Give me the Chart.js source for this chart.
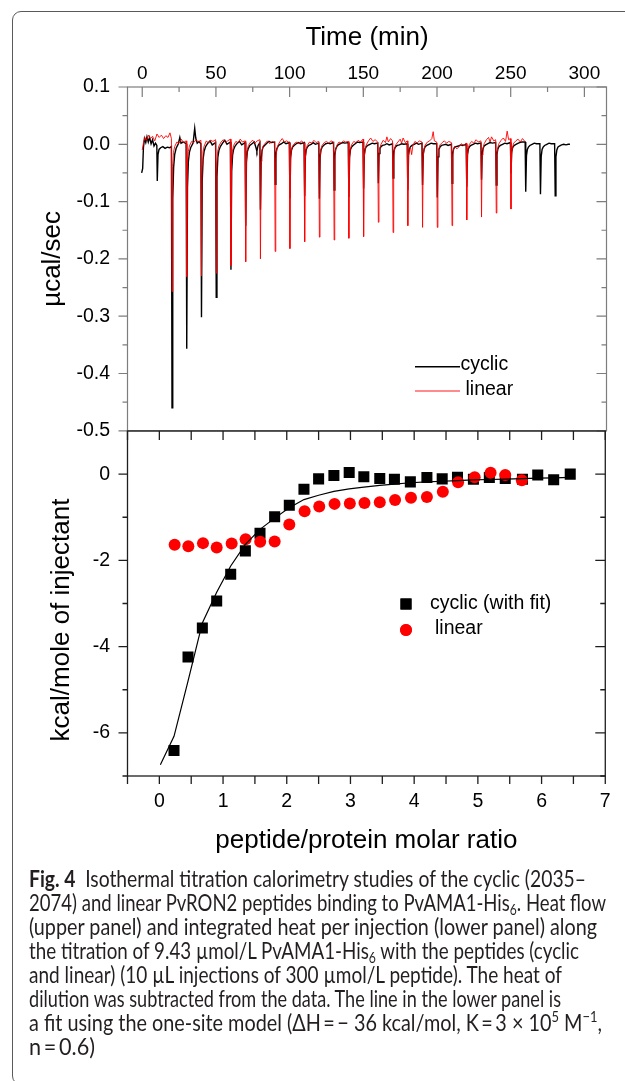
<!DOCTYPE html>
<html><head><meta charset="utf-8">
<script src="https://cdn.jsdelivr.net/npm/chart.js@4.4.1/dist/chart.umd.min.js"></script>
<style>
html,body{margin:0;padding:0;background:#fff;}
body{width:625px;height:1081px;position:relative;overflow:hidden;}
#frame{position:absolute;left:12px;top:11px;width:700px;height:1074px;border:1.5px solid #5a5a5a;border-radius:9px;box-sizing:border-box;}
#cA{position:absolute;left:0;top:0;}
#cB{position:absolute;left:0;top:400px;}
#caption{position:absolute;left:29px;top:866px;font-family:Lato,'Open Sans',sans-serif;font-size:23px;line-height:24px;color:#231f20;white-space:nowrap;}
#caption div{height:24px;}
#caption span.ln{display:inline-block;transform-origin:0 0;transform:scaleX(0.837);}
#caption b{font-weight:700;}
#caption sub{font-size:15px;vertical-align:-4px;line-height:0;}
#caption sup{font-size:15px;vertical-align:9px;line-height:0;}
</style></head><body>
<div id="frame"></div>
<canvas id="cA" width="625" height="460"></canvas>
<canvas id="cB" width="625" height="470"></canvas>
<div id="caption">
<div><span class="ln"><b>Fig. 4</b>&ensp;Isothermal titration calorimetry studies of the cyclic (2035–</span></div>
<div><span class="ln">2074) and linear PvRON2 peptides binding to PvAMA1-His<sub>6</sub>. Heat flow</span></div>
<div><span class="ln">(upper panel) and integrated heat per injection (lower panel) along</span></div>
<div><span class="ln">the titration of 9.43 µmol/L PvAMA1-His<sub>6</sub> with the peptides (cyclic</span></div>
<div><span class="ln">and linear) (10 µL injections of 300 µmol/L peptide). The heat of</span></div>
<div><span class="ln">dilution was subtracted from the data. The line in the lower panel is</span></div>
<div><span class="ln">a fit using the one-site model (ΔH&thinsp;=&thinsp;− 36 kcal/mol, K&thinsp;=&thinsp;3 × 10<sup>5</sup> M<sup>−1</sup>,</span></div>
<div><span class="ln">n&thinsp;=&thinsp;0.6)</span></div>
</div>
<script>
// ---------- tick values ----------
const timeMajorTicks = [0, 50, 100, 150, 200, 250, 300];
const timeMinorTicks = [25, 75, 125, 175, 225, 275];
const heatMajorTicks = [0.1, 0, -0.1, -0.2, -0.3, -0.4, -0.5];
const heatMinorTicks = [0.05, -0.05, -0.15, -0.25, -0.35, -0.45];
const ratioTicks = [0, 1, 2, 3, 4, 5, 6, 7];
const ratioMarks = [-0.5, 0, 0.5, 1, 1.5, 2, 2.5, 3, 3.5, 4, 4.5, 5, 5.5, 6, 6.5, 7];
const kcalMajorTicks = [0, -2, -4, -6];
const kcalMinorTicks = [-1, -3, -5, -7];

// ---------- upper panel: raw heat flow [time (min), µcal/sec] ----------
const cyclicTrace = [
 [-0.4,-0.050],[0.3,-0.042],[0.8,-0.006],[1.5,0.010],[2.4,0.003],[3.2,0.013],[4.1,0.004],[5.0,0.012],[6.0,0.001],[7.0,0.008],[8.0,-0.003],[9.0,0.002],[9.9,-0.002],
 [10.2,-0.064],[10.7,-0.018],[11.4,-0.009],[12.5,-0.006],[14.0,-0.004],[15.5,-0.007],[17.0,-0.005],[18.5,-0.006],[19.8,-0.004],
 [20.2,-0.460],[20.7,-0.095],[21.3,-0.040],[22.0,-0.018],[23.0,-0.007],[24.5,0.001],[25.5,0.012],[26.3,0.002],[27.8,0.004],[29.8,0.001],
 [30.2,-0.357],[30.7,-0.075],[31.3,-0.030],[32.0,-0.014],[33.0,-0.005],[34.5,0.002],[35.6,0.028],[36.3,0.011],[37.3,0.002],[38.5,0.005],[39.8,0.001],
 [40.2,-0.302],[40.7,-0.064],[41.3,-0.026],[42.0,-0.012],[43.0,-0.004],[44.5,0.002],[46.0,0.006],[47.5,-0.001],[49.8,0.003],
 [50.2,-0.267],[50.7,-0.057],[51.3,-0.023],[52.0,-0.011],[53.0,-0.004],[54.5,0.002],[56.0,0.007],[57.5,0.000],[59.8,0.004],
 [60.2,-0.219],[60.7,-0.047],[61.3,-0.019],[62.0,-0.009],[63.0,-0.003],[64.5,0.002],[66.0,0.005],[67.5,-0.001],[69.8,0.003],
 [70.2,-0.142],[70.7,-0.032],[71.3,-0.013],[72.0,-0.007],[73.0,-0.002],[74.5,0.001],[76.0,0.004],[77.2,-0.006],[77.8,-0.012],[78.6,-0.002],[79.8,0.003],
 [80.2,-0.114],[80.7,-0.026],[81.3,-0.011],[82.0,-0.005],[83.0,-0.002],[84.5,0.002],[86.0,0.005],[87.5,0.003],[89.8,0.004],
 [90.2,-0.070],[90.7,-0.018],[91.3,-0.008],[92.0,-0.004],[93.0,-0.001],[94.5,0.001],[96.0,0.004],[97.5,0.001],[99.8,0.003],
 [100.2,-0.094],[100.7,-0.022],[101.3,-0.010],[102.0,-0.005],[103.0,-0.002],[104.5,0.001],[106.0,0.003],[107.5,0.001],[109.8,0.003],
 [110.2,-0.090],[110.7,-0.021],[111.3,-0.009],[112.0,-0.005],[113.0,-0.002],[114.5,0.000],[116.0,0.003],[117.5,0.000],[119.8,0.002],
 [120.2,-0.095],[120.7,-0.022],[121.3,-0.010],[122.0,-0.005],[123.0,-0.002],[124.5,0.001],[126.0,0.002],[127.5,0.001],[129.8,0.003],
 [130.2,-0.080],[130.7,-0.019],[131.3,-0.008],[132.0,-0.004],[133.0,-0.001],[134.5,0.001],[136.0,0.003],[137.5,0.002],[139.8,0.003],
 [140.2,-0.092],[140.7,-0.022],[141.3,-0.009],[142.0,-0.005],[143.0,-0.002],[144.5,0.001],[146.0,0.004],[147.5,0.003],[149.8,0.004],
 [150.2,-0.077],[150.7,-0.018],[151.3,-0.008],[152.0,-0.004],[153.0,-0.002],[154.5,0.000],[156.0,0.002],[157.5,0.001],[159.8,0.002],
 [160.2,-0.068],[160.7,-0.016],[161.3,-0.007],[162.0,-0.004],[163.0,-0.002],[164.5,-0.001],[166.0,0.001],[167.5,-0.001],[169.8,0.001],
 [170.2,-0.059],[170.7,-0.015],[171.3,-0.007],[172.0,-0.004],[173.0,-0.002],[174.5,-0.001],[176.0,0.001],[177.5,0.000],[179.8,0.001],
 [180.2,-0.080],[180.7,-0.019],[181.3,-0.008],[182.0,-0.004],[183.0,-0.002],[184.5,0.000],[186.0,0.002],[187.5,0.000],[189.8,0.002],
 [190.2,-0.071],[190.7,-0.017],[191.3,-0.008],[192.0,-0.004],[193.0,-0.002],[194.5,0.000],[196.0,0.002],[197.5,0.001],[199.8,0.001],
 [200.2,-0.093],[200.7,-0.022],[201.3,-0.009],[202.0,-0.005],[203.0,-0.002],[204.5,-0.001],[206.0,0.000],[207.5,-0.002],[209.8,0.000],
 [210.2,-0.068],[210.7,-0.016],[211.3,-0.008],[212.0,-0.005],[213.0,-0.004],[214.5,-0.003],[216.0,-0.001],[217.5,-0.002],[219.8,0.000],
 [220.2,-0.074],[220.7,-0.018],[221.3,-0.008],[222.0,-0.004],[223.0,-0.002],[224.5,0.000],[226.0,0.002],[227.5,0.001],[229.8,0.002],
 [230.2,-0.062],[230.7,-0.015],[231.3,-0.007],[232.0,-0.003],[233.0,-0.001],[234.5,0.001],[236.0,0.003],[237.5,0.002],[239.8,0.003],
 [240.2,-0.071],[240.7,-0.017],[241.3,-0.008],[242.0,-0.004],[243.0,-0.002],[244.5,0.000],[246.0,0.002],[247.5,0.001],[249.8,0.003],
 [250.2,-0.051],[250.7,-0.013],[251.3,-0.006],[252.0,-0.003],[253.0,-0.001],[254.5,0.001],[256.0,0.003],[257.5,0.004],[259.8,0.004],
 [260.2,-0.083],[260.7,-0.020],[261.3,-0.009],[262.0,-0.005],[263.0,-0.002],[264.5,0.000],[266.0,0.002],[267.5,0.001],[269.8,0.001],
 [270.2,-0.087],[270.7,-0.021],[271.3,-0.009],[272.0,-0.005],[273.0,-0.002],[274.5,0.000],[276.0,0.002],[277.5,0.001],[279.8,0.001],
 [280.2,-0.090],[280.7,-0.022],[281.3,-0.010],[282.0,-0.005],[283.0,-0.003],[284.5,-0.001],[286.0,0.000],[287.5,-0.001],[289.0,0.000],[290.2,0.000]
];
const linearTrace = [
 [0.0,-0.010],[0.8,0.002],[1.8,0.012],[3.0,0.007],[4.2,0.016],[5.5,0.010],[7.0,0.014],[8.5,0.006],[10.0,0.018],[11.5,0.012],[13.0,0.016],[14.5,0.010],[16.0,0.015],[17.5,0.012],[18.8,0.020],[19.8,0.010],
 [20.2,-0.257],[20.6,-0.039],[21.2,-0.014],[22.0,-0.004],[23.5,0.004],[25.0,0.002],[26.5,0.009],[28.0,0.003],[29.8,0.006],
 [30.2,-0.231],[30.6,-0.035],[31.2,-0.013],[32.0,-0.003],[33.5,0.005],[35.0,0.003],[36.5,0.008],[38.0,0.004],[39.8,0.007],
 [40.2,-0.230],[40.6,-0.035],[41.2,-0.013],[42.0,-0.003],[43.5,0.006],[45.0,0.002],[46.5,0.007],[48.0,0.005],[49.8,0.008],
 [50.2,-0.225],[50.6,-0.034],[51.2,-0.012],[52.0,-0.003],[53.5,0.004],[55.0,0.008],[56.5,0.003],[58.0,0.006],[59.8,0.009],
 [60.2,-0.212],[60.6,-0.032],[61.2,-0.012],[62.0,-0.002],[63.5,0.005],[65.0,0.003],[66.5,0.009],[68.0,0.004],[69.8,0.006],
 [70.2,-0.205],[70.6,-0.031],[71.2,-0.011],[72.0,-0.002],[73.5,0.004],[75.0,0.007],[76.5,0.002],[78.0,0.006],[79.8,0.008],
 [80.2,-0.200],[80.6,-0.030],[81.2,-0.011],[82.0,-0.003],[83.5,0.002],[85.0,0.006],[86.5,0.001],[88.0,0.005],[89.8,0.003],
 [90.2,-0.187],[90.6,-0.028],[91.2,-0.010],[92.0,-0.002],[93.5,0.005],[95.0,0.010],[96.5,0.004],[98.0,0.006],[99.8,0.003],
 [100.2,-0.182],[100.6,-0.027],[101.2,-0.010],[102.0,-0.003],[103.5,0.002],[105.0,0.004],[106.5,0.001],[108.0,0.006],[109.8,0.002],
 [110.2,-0.170],[110.6,-0.026],[111.2,-0.009],[112.0,-0.002],[113.5,0.004],[115.0,0.002],[116.5,0.007],[118.0,0.003],[119.8,0.005],
 [120.2,-0.162],[120.6,-0.024],[121.2,-0.009],[122.0,-0.002],[123.5,0.003],[125.0,0.005],[126.5,0.002],[128.0,0.006],[129.8,0.004],
 [130.2,-0.167],[130.6,-0.025],[131.2,-0.009],[132.0,-0.002],[133.5,0.004],[135.0,0.002],[136.5,0.006],[138.0,0.004],[139.8,0.005],
 [140.2,-0.164],[140.6,-0.025],[141.2,-0.009],[142.0,-0.001],[143.5,0.005],[145.0,0.003],[146.5,0.007],[148.0,0.004],[149.8,0.009],
 [150.2,-0.161],[150.6,-0.024],[151.2,-0.009],[152.0,-0.001],[153.5,0.006],[155.0,0.011],[156.5,0.005],[158.0,0.008],[159.8,0.004],
 [160.2,-0.136],[160.6,-0.020],[161.2,-0.007],[162.0,0.000],[163.5,0.007],[165.0,0.003],[166.0,0.013],[167.0,0.004],[168.5,0.010],[169.8,0.006],
 [170.2,-0.154],[170.6,-0.023],[171.2,-0.008],[172.0,-0.001],[173.5,0.004],[175.0,0.009],[176.0,0.002],[177.0,0.011],[178.5,0.003],[179.8,0.006],
 [180.2,-0.142],[180.6,-0.021],[181.2,-0.008],[182.0,-0.006],[182.8,-0.018],[183.6,-0.002],[185.0,0.005],[186.5,0.002],[188.0,0.006],[189.8,0.004],
 [190.2,-0.145],[190.6,-0.022],[191.2,-0.008],[192.0,-0.001],[193.5,0.004],[195.0,0.006],[196.5,0.010],[197.4,0.022],[198.2,0.006],[199.8,0.004],
 [200.2,-0.145],[200.6,-0.022],[201.2,-0.008],[202.0,-0.001],[203.5,0.003],[205.0,0.006],[206.5,0.002],[208.0,0.005],[209.8,0.003],
 [210.2,-0.142],[210.6,-0.021],[211.2,-0.008],[212.0,-0.004],[213.5,-0.008],[215.0,-0.004],[216.5,0.001],[218.0,-0.002],[219.8,0.002],
 [220.2,-0.132],[220.6,-0.020],[221.2,-0.007],[222.0,0.000],[223.5,0.005],[225.0,0.002],[226.5,0.008],[228.0,0.004],[229.8,0.006],
 [230.2,-0.127],[230.6,-0.019],[231.2,-0.007],[232.0,0.001],[233.5,0.008],[235.0,0.012],[236.0,0.004],[237.0,0.013],[238.5,0.006],[239.8,0.008],
 [240.2,-0.120],[240.6,-0.018],[241.2,-0.006],[242.0,0.001],[243.5,0.007],[245.0,0.011],[246.5,0.005],[247.6,0.023],[248.6,0.008],[249.8,0.010],
 [250.2,-0.113],[250.6,-0.017],[251.2,-0.006],[252.0,0.002],[253.5,0.006],[255.0,0.009],[256.5,0.004],[258.0,0.010],[259.6,0.005]
];

// ---------- lower panel: integrated heats (kcal/mole of injectant) ----------
const cyclicRatio = [0.23,0.45,0.675,0.90,1.12,1.35,1.58,1.81,2.04,2.27,2.50,2.74,2.98,3.21,3.46,3.69,3.94,4.20,4.44,4.68,4.93,5.18,5.43,5.70,5.94,6.19,6.45];
const cyclicHeat  = [-6.41,-4.24,-3.57,-2.94,-2.32,-1.78,-1.37,-0.99,-0.72,-0.35,-0.11,-0.03,0.04,-0.06,-0.10,-0.12,-0.18,-0.08,-0.11,-0.07,-0.12,-0.08,-0.10,-0.12,-0.02,-0.13,0.00];
const linearRatio = [0.24,0.455,0.685,0.90,1.135,1.354,1.583,1.81,2.04,2.28,2.51,2.75,2.99,3.22,3.46,3.70,3.95,4.20,4.45,4.69,4.95,5.20,5.43,5.69];
const linearHeat  = [-1.64,-1.67,-1.60,-1.70,-1.61,-1.51,-1.57,-1.56,-1.17,-0.86,-0.75,-0.69,-0.68,-0.67,-0.65,-0.60,-0.55,-0.53,-0.41,-0.19,-0.07,0.03,-0.02,-0.14];
const fitRatio = [0.016,0.23,0.45,0.675,0.90,1.12,1.35,1.58,1.81,2.04,2.27,2.50,2.74,2.98,3.21,3.46,3.69,3.94,4.20,4.44,4.68,4.92,5.18,5.43,5.70,5.94,6.20,6.45];
const fitHeat  = [-6.74,-6.08,-4.80,-3.45,-2.74,-2.13,-1.63,-1.28,-1.02,-0.78,-0.59,-0.49,-0.40,-0.34,-0.30,-0.26,-0.23,-0.20,-0.18,-0.165,-0.15,-0.135,-0.125,-0.115,-0.105,-0.095,-0.085,-0.075];

// caption line right ends (page px)
const captionLineEnds = [586, 606, 597, 579, 562, 561, 602, 95];
document.querySelectorAll('#caption span.ln').forEach((el, i) => {
  el.style.transform = 'none';
  const w = el.getBoundingClientRect().width;
  const target = captionLineEnds[i] - 29;
  el.style.transform = 'scaleX(' + (target / w).toFixed(4) + ')';
});

const FONT = "'Liberation Sans', Arial, sans-serif";
Chart.defaults.font.family = FONT;
Chart.defaults.color = '#000';

// frame + tick marks drawn through the chart's own scales
const frameTicks = {
  id: 'frameTicks',
  afterDraw(chart, args, opts) {
    const ctx = chart.ctx, a = chart.chartArea;
    ctx.save();
    ctx.strokeStyle = opts.color; ctx.lineWidth = opts.width;
    ctx.strokeRect(a.left, a.top, a.right - a.left, a.bottom - a.top);
    ctx.beginPath();
    for (const m of opts.marks) {
      const s = chart.scales[m.scale];
      for (const v of m.values) {
        const p = s.getPixelForValue(v);
        if (m.edge === 'top') { ctx.moveTo(p, a.top); ctx.lineTo(p, a.top + m.len); }
        else if (m.edge === 'bottom') { ctx.moveTo(p, a.bottom); ctx.lineTo(p, a.bottom - m.len); }
        else if (m.edge === 'left') { ctx.moveTo(a.left, p); ctx.lineTo(a.left + m.len, p); }
        else { ctx.moveTo(a.right, p); ctx.lineTo(a.right - m.len, p); }
      }
    }
    ctx.stroke();
    ctx.restore();
  }
};

// inset legend
const insetLegend = {
  id: 'insetLegend',
  afterDraw(chart, args, opts) {
    const ctx = chart.ctx, a = chart.chartArea;
    ctx.save();
    ctx.font = opts.font;
    ctx.textBaseline = 'middle'; ctx.textAlign = 'left'; ctx.fillStyle = '#000';
    for (const it of opts.items) {
      const ds = chart.data.datasets[it.ds];
      const x = a.left + it.dx, y = a.top + it.dy;
      if (it.kind === 'line') {
        ctx.strokeStyle = ds.borderColor; ctx.lineWidth = ds.borderWidth;
        ctx.beginPath(); ctx.moveTo(x, y); ctx.lineTo(x + it.len, y); ctx.stroke();
      } else {
        ctx.fillStyle = ds.pointBackgroundColor;
        Chart.helpers.drawPoint(ctx, {pointStyle: ds.pointStyle, radius: ds.pointRadius, borderWidth: 0}, x, y);
        ctx.fill();
      }
      ctx.fillStyle = '#000';
      ctx.fillText(it.text, a.left + it.tx, a.top + it.ty);
    }
    ctx.restore();
  }
};

// extra rotated axis title (lower panel)
const sideTitle = {
  id: 'sideTitle',
  afterDraw(chart, args, opts) {
    if (!opts.text) return;
    const ctx = chart.ctx, a = chart.chartArea;
    ctx.save();
    ctx.translate(a.left + opts.dx, a.top + opts.dy);
    ctx.rotate(-Math.PI / 2);
    ctx.font = opts.font; ctx.fillStyle = '#000';
    ctx.textAlign = 'center'; ctx.textBaseline = 'middle';
    ctx.fillText(opts.text, 0, 0);
    ctx.restore();
  }
};

const pairs = arr => arr.map(p => ({x: p[0], y: p[1]}));
const zip = (xs, ys) => xs.map((x, i) => ({x, y: ys[i]}));

// ---------- upper chart ----------
new Chart(document.getElementById('cA'), {
  type: 'line',
  data: { datasets: [
    { label: 'cyclic', data: pairs(cyclicTrace), borderColor: '#000', borderWidth: 1.4, pointRadius: 0, tension: 0, order: 1 },
    { label: 'linear', data: pairs(linearTrace), borderColor: 'rgba(255,0,0,0.9)', borderWidth: 1, pointRadius: 0, tension: 0, order: 0 }
  ]},
  options: {
    responsive: false, animation: false, devicePixelRatio: 1, events: [],
    layout: { padding: { left: 0, right: 18.5, top: 0, bottom: 29 } },
    plugins: {
      legend: { display: false }, tooltip: { enabled: false },
      frameTicks: { color: '#7d7d7d', width: 1.2, marks: [
        { scale: 'x', edge: 'top', values: timeMajorTicks, len: 10 },
        { scale: 'x', edge: 'top', values: timeMinorTicks, len: 5 },
        { scale: 'y', edge: 'left', values: heatMajorTicks, len: -9 },
        { scale: 'y', edge: 'left', values: heatMinorTicks, len: -5 },
        { scale: 'y', edge: 'right', values: heatMajorTicks, len: 10 },
        { scale: 'y', edge: 'right', values: heatMinorTicks, len: 5 }
      ]},
      insetLegend: { font: "19.5px " + FONT, items: [
        { ds: 0, kind: 'line', dx: 287.5, dy: 279.7, len: 45, text: 'cyclic', tx: 333, ty: 278 },
        { ds: 1, kind: 'line', dx: 287.5, dy: 304, len: 45, text: 'linear', tx: 338, ty: 303 }
      ]}
    },
    scales: {
      x: {
        type: 'linear', position: 'top', min: -10, max: 315,
        afterBuildTicks: s => { s.ticks = timeMajorTicks.map(v => ({value: v})); },
        afterFit: s => { s.height = 87; },
        ticks: { font: { size: 19 }, padding: 2.3, maxRotation: 0, autoSkip: false, callback: v => String(v) },
        grid: { display: false, drawTicks: false }, border: { display: false },
        title: { display: true, text: 'Time (min)', font: { size: 26 }, padding: { top: 22.4, bottom: 0 } }
      },
      y: {
        type: 'linear', min: -0.5, max: 0.1,
        afterBuildTicks: s => { s.ticks = heatMajorTicks.map(v => ({value: v})); },
        afterFit: s => { s.width = 127.5; },
        ticks: { font: { size: 19.5 }, padding: 17.5, autoSkip: false, callback: v => v.toFixed(1) },
        grid: { display: false, drawTicks: false }, border: { display: false },
        title: { display: true, text: 'µcal/sec', font: { size: 26 }, padding: { top: 37.4, bottom: 0 } }
      }
    }
  },
  plugins: [frameTicks, insetLegend]
});

// ---------- lower chart ----------
new Chart(document.getElementById('cB'), {
  type: 'line',
  data: { datasets: [
    { label: 'cyclic (with fit)', data: zip(cyclicRatio, cyclicHeat), showLine: false, pointStyle: 'rect', pointRadius: 7.8, pointBackgroundColor: '#000', pointBorderWidth: 0, borderColor: '#000', order: 2 },
    { label: 'linear', data: zip(linearRatio, linearHeat), showLine: false, pointStyle: 'circle', pointRadius: 6, pointBackgroundColor: '#ff0000', pointBorderWidth: 0, borderColor: '#ff0000', order: 1 },
    { label: 'fit', data: zip(fitRatio, fitHeat), borderColor: '#000', borderWidth: 1.2, pointRadius: 0, tension: 0, order: 0 }
  ]},
  options: {
    responsive: false, animation: false, devicePixelRatio: 1, events: [],
    layout: { padding: { left: 0, right: 18.5, top: 31, bottom: 0 } },
    plugins: {
      legend: { display: false }, tooltip: { enabled: false },
      frameTicks: { color: '#1e1e1e', width: 1.3, marks: [
        { scale: 'x', edge: 'top', values: ratioMarks, len: 9 },
        { scale: 'x', edge: 'bottom', values: ratioMarks, len: -8 },
        { scale: 'y', edge: 'left', values: kcalMajorTicks, len: -9 },
        { scale: 'y', edge: 'left', values: kcalMinorTicks, len: -5 },
        { scale: 'y', edge: 'right', values: kcalMajorTicks, len: 10 },
        { scale: 'y', edge: 'right', values: kcalMinorTicks, len: 5 }
      ]},
      insetLegend: { font: "19.5px " + FONT, items: [
        { ds: 0, kind: 'point', dx: 278.5, dy: 173, text: 'cyclic (with fit)', tx: 302.5, ty: 173 },
        { ds: 1, kind: 'point', dx: 278.5, dy: 199, text: 'linear', tx: 307.5, ty: 198 }
      ]},
      sideTitle: { text: 'kcal/mole of injectant', font: "26px " + FONT, dx: -66, dy: 189 }
    },
    scales: {
      x: {
        type: 'linear', position: 'bottom', min: -0.5, max: 7,
        afterBuildTicks: s => { s.ticks = ratioTicks.map(v => ({value: v})); },
        afterFit: s => { s.height = 94; },
        ticks: { font: { size: 19.5 }, padding: 14.3, maxRotation: 0, autoSkip: false, callback: v => String(v) },
        grid: { display: false, drawTicks: false }, border: { display: false },
        title: { display: true, text: 'peptide/protein molar ratio', font: { size: 26 }, padding: { top: 0, bottom: 13.4 } }
      },
      y: {
        type: 'linear', min: -7, max: 1,
        afterBuildTicks: s => { s.ticks = kcalMajorTicks.map(v => ({value: v})); },
        afterFit: s => { s.width = 127.5; },
        ticks: { font: { size: 19.5 }, padding: 17.5, autoSkip: false, callback: v => String(v) },
        grid: { display: false, drawTicks: false }, border: { display: false }
      }
    }
  },
  plugins: [frameTicks, insetLegend, sideTitle]
});
</script>
</body></html>
